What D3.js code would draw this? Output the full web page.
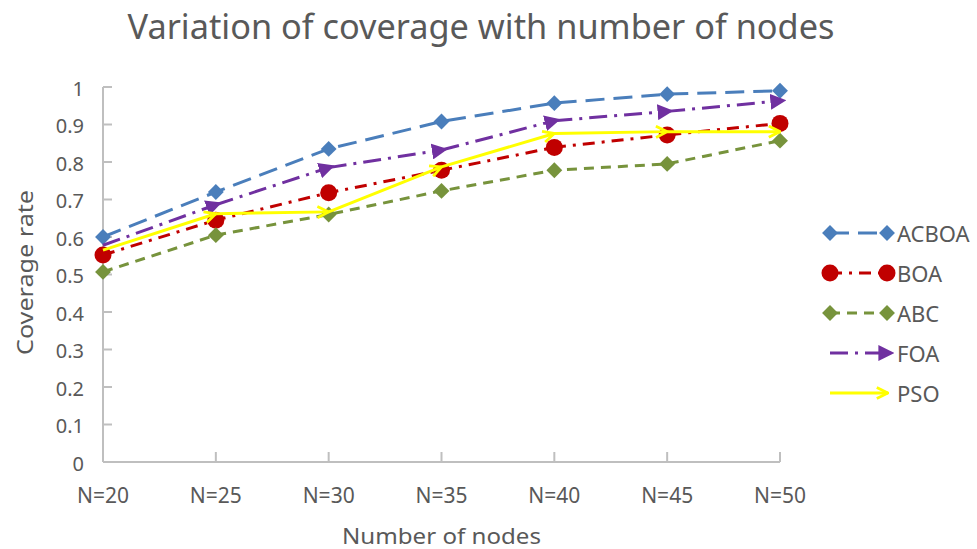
<!DOCTYPE html>
<html>
<head>
<meta charset="utf-8">
<script src="https://cdn.jsdelivr.net/npm/d3@7"></script>
<style>
  body { margin: 0; background: #fff; }
  svg text { font-family: "Noto Sans", sans-serif; fill: #595959; }
</style>
</head>
<body>
<svg id="chart" width="977" height="549"></svg>
<script>
var categories = ['N=20', 'N=25', 'N=30', 'N=35', 'N=40', 'N=45', 'N=50'];
var acboa = [0.600, 0.720, 0.835, 0.908, 0.957, 0.981, 0.990];
var boa   = [0.552, 0.645, 0.718, 0.778, 0.839, 0.872, 0.903];
var abc   = [0.507, 0.605, 0.660, 0.723, 0.778, 0.795, 0.857];
var foa   = [0.578, 0.686, 0.785, 0.832, 0.910, 0.935, 0.963];
var pso   = [0.565, 0.662, 0.667, 0.787, 0.876, 0.881, 0.881];
var yTicks = [0, 0.1, 0.2, 0.3, 0.4, 0.5, 0.6, 0.7, 0.8, 0.9, 1];

var series = [
    {name: 'ACBOA', values: acboa, color: '#4A7EBB', dash: '19,9',      marker: 'diamond'},
    {name: 'BOA',   values: boa,   color: '#C00000', dash: '12,7,3,7',  marker: 'circle'},
    {name: 'ABC',   values: abc,   color: '#77933C', dash: '10,7',      marker: 'diamond'},
    {name: 'FOA',   values: foa,   color: '#7030A0', dash: '18,7,3,7',  marker: 'triangle'},
    {name: 'PSO',   values: pso,   color: '#FFFF00', dash: null,        marker: 'arrow'}
];

var svg = d3.select('#chart');

var x = d3.scalePoint().domain(categories).range([103, 780]);
var y = d3.scaleLinear().domain([0, 1]).range([462, 87]);

// arrow markers for FOA / PSO
var defs = svg.append('defs');
defs.append('marker')
    .attr('id', 'tri')
    .attr('viewBox', '0 0 10 10')
    .attr('refX', 6).attr('refY', 5)
    .attr('markerUnits', 'userSpaceOnUse')
    .attr('markerWidth', 16).attr('markerHeight', 16)
    .attr('orient', 'auto')
    .append('path')
    .attr('d', 'M0,0L10,5L0,10Z')
    .attr('fill', '#7030A0');
defs.append('marker')
    .attr('id', 'arr')
    .attr('viewBox', '0 0 10 10')
    .attr('refX', 9).attr('refY', 5)
    .attr('markerUnits', 'userSpaceOnUse')
    .attr('markerWidth', 14).attr('markerHeight', 14)
    .attr('orient', 'auto')
    .append('path')
    .attr('d', 'M1,1L9,5L1,9')
    .attr('fill', 'none')
    .attr('stroke', '#FFFF00')
    .attr('stroke-width', 2);

// axes
var axisColor = '#BFBFBF';
svg.append('line')
    .attr('x1', x.range()[0]).attr('x2', x.range()[1])
    .attr('y1', y(0)).attr('y2', y(0))
    .attr('stroke', axisColor).attr('stroke-width', 2);
svg.append('line')
    .attr('x1', x.range()[0]).attr('x2', x.range()[0])
    .attr('y1', y(0)).attr('y2', y(1))
    .attr('stroke', axisColor).attr('stroke-width', 2);

svg.append('g').selectAll('line')
    .data(yTicks)
    .enter().append('line')
    .attr('x1', x.range()[0]).attr('x2', x.range()[0] + 9)
    .attr('y1', function(d) { return y(d); })
    .attr('y2', function(d) { return y(d); })
    .attr('stroke', axisColor).attr('stroke-width', 2);

svg.append('g').selectAll('line')
    .data(categories.slice(1))
    .enter().append('line')
    .attr('x1', function(d) { return x(d); })
    .attr('x2', function(d) { return x(d); })
    .attr('y1', y(0)).attr('y2', y(0) - 10)
    .attr('stroke', axisColor).attr('stroke-width', 2);

svg.append('g').selectAll('text')
    .data(yTicks)
    .enter().append('text')
    .attr('x', 84)
    .attr('y', function(d) { return y(d) + 8.5; })
    .attr('text-anchor', 'end')
    .style('font-size', '20px')
    .text(function(d) { return d; });

svg.append('g').selectAll('text')
    .data(categories)
    .enter().append('text')
    .attr('x', function(d) { return x(d); })
    .attr('y', y(0) + 41)
    .attr('text-anchor', 'middle')
    .style('font-size', '21px')
    .text(function(d) { return d; });

// titles
svg.append('text')
    .attr('x', 481).attr('y', 39)
    .attr('text-anchor', 'middle')
    .attr('textLength', 707)
    .attr('lengthAdjust', 'spacingAndGlyphs')
    .style('font-size', '34px')
    .text('Variation of coverage with number of nodes');

svg.append('text')
    .attr('x', 441.5).attr('y', 544)
    .attr('text-anchor', 'middle')
    .attr('textLength', 199)
    .attr('lengthAdjust', 'spacingAndGlyphs')
    .style('font-size', '21px')
    .text('Number of nodes');

svg.append('text')
    .attr('transform', 'translate(33,272.5) rotate(-90)')
    .attr('text-anchor', 'middle')
    .attr('textLength', 165)
    .attr('lengthAdjust', 'spacingAndGlyphs')
    .style('font-size', '22px')
    .text('Coverage rate');

// lines
var line = d3.line()
    .x(function(d, i) { return x(categories[i]); })
    .y(function(d) { return y(d); });

var drawMarker = function(g, type, color, cx, cy) {
    if (type === 'diamond') {
        g.append('path')
            .attr('d', d3.symbol().type(d3.symbolDiamond2).size(160)())
            .attr('transform', 'translate(' + cx + ',' + cy + ')')
            .attr('fill', color);
    } else if (type === 'circle') {
        g.append('circle')
            .attr('cx', cx).attr('cy', cy).attr('r', 8.5)
            .attr('fill', color);
    }
};

var plot = svg.append('g');

series.forEach(function(s) {
    var g = plot.append('g');
    if (s.marker === 'triangle' || s.marker === 'arrow') {
        // one path per segment so each gets its own arrow head
        for (var i = 1; i < s.values.length; i++) {
            var x0 = x(categories[i - 1]), y0 = y(s.values[i - 1]);
            var x1 = x(categories[i]), y1 = y(s.values[i]);
            g.append('path')
                .attr('d', 'M' + x0 + ',' + y0 + 'L' + x1 + ',' + y1)
                .attr('fill', 'none')
                .attr('stroke', s.color)
                .attr('stroke-width', 3)
                .attr('stroke-dasharray', s.dash)
                .attr('marker-end', s.marker === 'triangle' ? 'url(#tri)' : 'url(#arr)');
        }
    } else {
        g.append('path')
            .attr('d', line(s.values))
            .attr('fill', 'none')
            .attr('stroke', s.color)
            .attr('stroke-width', 3)
            .attr('stroke-dasharray', s.dash);
        s.values.forEach(function(v, i) {
            drawMarker(g, s.marker, s.color, x(categories[i]), y(v));
        });
    }
});

// legend
var legend = svg.append('g');
series.forEach(function(s, i) {
    var ly = 233 + i * 40;
    var g = legend.append('g');
    g.append('path')
        .attr('d', 'M830,' + ly + 'L888,' + ly)
        .attr('fill', 'none')
        .attr('stroke', s.color)
        .attr('stroke-width', 3)
        .attr('stroke-dasharray', s.dash ? s.dash : null)
        .attr('marker-end', s.marker === 'triangle' ? 'url(#tri)' : (s.marker === 'arrow' ? 'url(#arr)' : null));
    drawMarker(g, s.marker, s.color, 830, ly);
    drawMarker(g, s.marker, s.color, 887, ly);
    g.append('text')
        .attr('x', 897)
        .attr('y', ly + 9)
        .style('font-size', '22px')
        .text(s.name);
});
</script>
</body>
</html>
